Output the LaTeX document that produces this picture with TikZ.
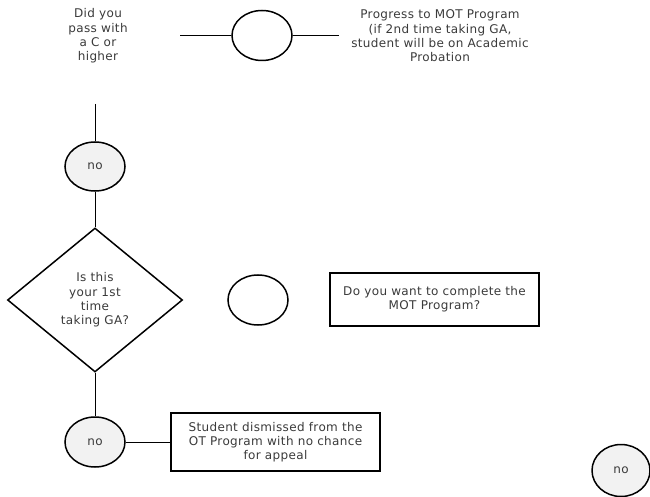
\documentclass[tikz,border=0pt]{standalone}
\usepackage{fontspec}
\setmainfont{DejaVu Sans}[LetterSpace=3]
\usetikzlibrary{shapes.geometric}
\definecolor{txt}{HTML}{3A3A3A}
\definecolor{nofill}{HTML}{F2F2F2}
\begin{document}
\begin{tikzpicture}[x=1bp,y=-1bp,
  every node/.style={font=\fontsize{12bp}{14.3bp}\selectfont, text=txt, align=center, inner sep=0pt},
  shp/.style={draw=black, line width=1.5bp},
  oval/.style={shp, ellipse, minimum width=60bp, minimum height=50bp},
  nooval/.style={oval, fill=nofill},
  boxnode/.style={shp, rectangle},
  conn/.style={draw=black, line width=0.9bp}]
\useasboundingbox (0,0) rectangle (650,497);
% top row
\node (q1) at (98,36) {Did you\\pass with\\a C or\\higher};
\node[oval] (c1) at (262,35.5) {};
\coordinate (l1) at (180,35.5);
\coordinate (r1) at (339,35.5);
\draw[conn] (l1) -- (c1.west);
\draw[conn] (c1.east) -- (r1);
\node (p1) at (440,36) {Progress to MOT Program\\(if 2nd time taking GA,\\student will be on Academic\\Probation};
% left column
\coordinate (v1) at (95,104);
\node[nooval, minimum height=49bp] (no1) at (95,166.5) {no};
\node[shp, diamond, minimum width=175bp, minimum height=144bp] (d1) at (95,300) {Is this\\your 1st\\time\\taking GA?};
\node[nooval] (no2) at (95,442) {no};
\draw[conn] (v1) -- (no1.north);
\draw[conn] (no1.south) -- (d1.north);
\draw[conn] (d1.south) -- (no2.north);
% middle row
\node[oval] (c2) at (258,300) {};
\node[boxnode, minimum width=209bp, minimum height=53bp] (b1) at (434.5,299.5) {Do you want to complete the\\MOT Program?};
% bottom row
\node[boxnode, minimum width=209bp, minimum height=58bp] (b2) at (275.5,442) {Student dismissed from the\\OT Program with no chance\\for appeal};
\draw[conn] (no2.east) -- (b2.west);
\node[nooval, minimum width=58bp, minimum height=52bp] (no3) at (621,470.5) {no};
\end{tikzpicture}
\end{document}
